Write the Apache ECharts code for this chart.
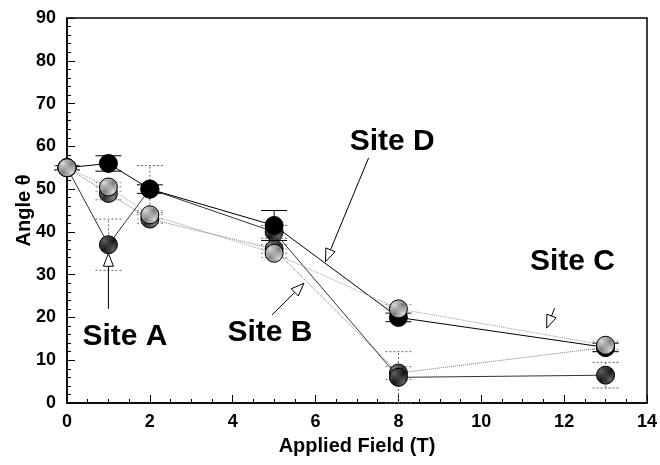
<!DOCTYPE html>
<html>
<head>
<meta charset="utf-8">
<script src="https://cdn.jsdelivr.net/npm/echarts@6/dist/echarts.min.js"></script>
<style>html,body{margin:0;padding:0;background:#fff}#c{width:660px;height:465px}</style>
</head>
<body>
<div id="c"></div>
<script>
// ---- data ----
const fieldValues = [0, 1, 2, 5, 8, 13];
const siteA = [55, 37, 50, 40, 6, 6.5];
const siteB = [55, 49, 43, 36, 7, 13];
const siteC = [55, 50.5, 44, 35, 22, 13.5];
const siteD = [55, 56, 50, 41.5, 20, 13];
const errA = [0.5, 6, 5.5, 1.5, 6, 3];
const errB = [0.5, 1.5, 1, 1, 1.5, 1];
const errC = [0.5, 1, 1, 1, 1, 1];
const errD = [0.5, 1.8, 1, 3.5, 1, 1];
const xTicks = [0, 2, 4, 6, 8, 10, 12, 14];
const yTicks = [0, 10, 20, 30, 40, 50, 60, 70, 80, 90];
const siteNames = ['Site A', 'Site B', 'Site C', 'Site D'];
const labelX = [1.4, 4.9, 12.2, 7.85];
const labelY = [15.5, 16.5, 33, 61];
const arrowFromX = [1, 4.95, 11.77, 7.28];
const arrowFromY = [22, 20.6, 22.2, 57.3];
const arrowToX = [1, 5.72, 11.58, 6.24];
const arrowToY = [35, 28, 17.5, 33];

// ---- styles ----
function pat(c1, c2) {
  const cv = document.createElement('canvas');
  cv.width = cv.height = 2;
  const g = cv.getContext('2d');
  g.fillStyle = c1; g.fillRect(0, 0, 2, 2);
  g.fillStyle = c2; g.fillRect(0, 0, 1, 1); g.fillRect(1, 1, 1, 1);
  return { image: cv, repeat: 'repeat' };
}
const FONT = '"Liberation Sans", Arial, Helvetica, sans-serif';

const chart = echarts.init(document.getElementById('c'), null, { renderer: 'canvas' });

function pts(ys) { return fieldValues.map((x, i) => [x, ys[i]]); }
function errData(ys, es) { return fieldValues.map((x, i) => [x, ys[i] - es[i], ys[i] + es[i]]); }

function errSeries(ys, es, color, dash, z) {
  return {
    type: 'custom', z: z, silent: true,
    data: errData(ys, es),
    encode: { x: 0, y: [1, 2] },
    renderItem: function (params, api) {
      const lo = api.coord([api.value(0), api.value(1)]);
      const hi = api.coord([api.value(0), api.value(2)]);
      const hw = 13;
      const st = { stroke: color, lineWidth: 1, lineDash: dash };
      return {
        type: 'group', children: [
          { type: 'line', shape: { x1: lo[0], y1: lo[1], x2: hi[0], y2: hi[1] }, style: st },
          { type: 'line', shape: { x1: lo[0] - hw, y1: lo[1], x2: lo[0] + hw, y2: lo[1] }, style: st },
          { type: 'line', shape: { x1: hi[0] - hw, y1: hi[1], x2: hi[0] + hw, y2: hi[1] }, style: st }
        ]
      };
    }
  };
}

function lineSeries(name, ys, fill, lineColor, lineType, z) {
  return {
    name: name, type: 'line', z: z, data: pts(ys),
    symbol: 'circle', symbolSize: 18, showSymbol: true,
    lineStyle: { color: lineColor, width: 1, type: lineType },
    itemStyle: { color: fill, borderColor: '#000', borderWidth: 1 },
    emphasis: { disabled: true }, animation: false
  };
}

const arrowData = siteNames.map((n, i) => [arrowFromX[i], arrowFromY[i], arrowToX[i], arrowToY[i]]);
const labelData = siteNames.map((n, i) => [labelX[i], labelY[i], n]);

const option = {
  animation: false,
  backgroundColor: '#fff',
  grid: { left: 67, right: 10, top: 18, bottom: 62, show: true, borderColor: '#000', borderWidth: 1.5, backgroundColor: 'transparent' },
  xAxis: {
    type: 'value', min: xTicks[0], max: xTicks[xTicks.length - 1], interval: xTicks[1] - xTicks[0],
    name: 'Applied Field (T)', nameLocation: 'middle', nameGap: 33,
    nameTextStyle: { fontFamily: FONT, fontWeight: 'bold', fontSize: 20, color: '#000' },
    axisLine: { show: true, lineStyle: { color: '#000', width: 1.5 } },
    axisTick: { show: true, inside: true, length: 8, lineStyle: { color: '#000' } },
    minorTick: { show: true, splitNumber: 4, length: 4, lineStyle: { color: '#000' } },
    splitLine: { show: false },
    axisLabel: { color: '#000', fontFamily: FONT, fontWeight: 'bold', fontSize: 18, margin: 10 }
  },
  yAxis: {
    type: 'value', min: yTicks[0], max: yTicks[yTicks.length - 1], interval: yTicks[1] - yTicks[0],
    name: 'Angle θ', nameLocation: 'middle', nameGap: 33, nameRotate: 90, nameMoveOverlap: false,
    nameTextStyle: { fontFamily: FONT, fontWeight: 'bold', fontSize: 20, color: '#000' },
    axisLine: { show: true, lineStyle: { color: '#000', width: 1.5 } },
    axisTick: { show: true, inside: true, length: 8, lineStyle: { color: '#000' } },
    minorTick: { show: true, splitNumber: 5, length: 4, lineStyle: { color: '#000' } },
    splitLine: { show: false },
    axisLabel: { color: '#000', fontFamily: FONT, fontWeight: 'bold', fontSize: 18, margin: 11 }
  },
  series: [
    errSeries(siteB, errB, '#777', [2, 2], 1),
    errSeries(siteA, errA, '#666', [2, 2], 1),
    errSeries(siteD, errD, '#000', null, 1),
    errSeries(siteC, errC, '#999', [2, 2], 1),
    lineSeries('Site B', siteB, pat('#222', '#888'), '#777', 'dotted', 2),
    lineSeries('Site A', siteA, pat('#111', '#666'), '#333', 'solid', 3),
    lineSeries('Site D', siteD, '#000', '#000', 'solid', 4),
    lineSeries('Site C', siteC, pat('#777', '#ddd'), '#999', 'dotted', 5),
    {
      type: 'custom', z: 6, silent: true, data: arrowData,
      encode: { x: [0, 2], y: [1, 3] },
      renderItem: function (params, api) {
        const p1 = api.coord([api.value(0), api.value(1)]);
        const p2 = api.coord([api.value(2), api.value(3)]);
        const dx = p2[0] - p1[0], dy = p2[1] - p1[1];
        const L = Math.sqrt(dx * dx + dy * dy);
        const ux = dx / L, uy = dy / L;
        const hl = 13, hw = 5;
        const bx = p2[0] - ux * hl, by = p2[1] - uy * hl;
        return {
          type: 'group', children: [
            { type: 'line', shape: { x1: p1[0], y1: p1[1], x2: bx, y2: by }, style: { stroke: '#000', lineWidth: 1 } },
            { type: 'polygon', shape: { points: [[p2[0], p2[1]], [bx - uy * hw, by + ux * hw], [bx + uy * hw, by - ux * hw]] },
              style: { fill: '#fff', stroke: '#000', lineWidth: 1 } }
          ]
        };
      }
    },
    {
      type: 'custom', z: 7, silent: true, data: labelData,
      encode: { x: 0, y: 1 },
      renderItem: function (params, api) {
        const p = api.coord([api.value(0), api.value(1)]);
        return {
          type: 'text', x: p[0], y: p[1],
          style: { text: labelData[params.dataIndex][2], font: 'bold 30px ' + FONT, fill: '#000', align: 'center', verticalAlign: 'middle' }
        };
      }
    }
  ]
};
chart.setOption(option);
</script>
</body>
</html>
